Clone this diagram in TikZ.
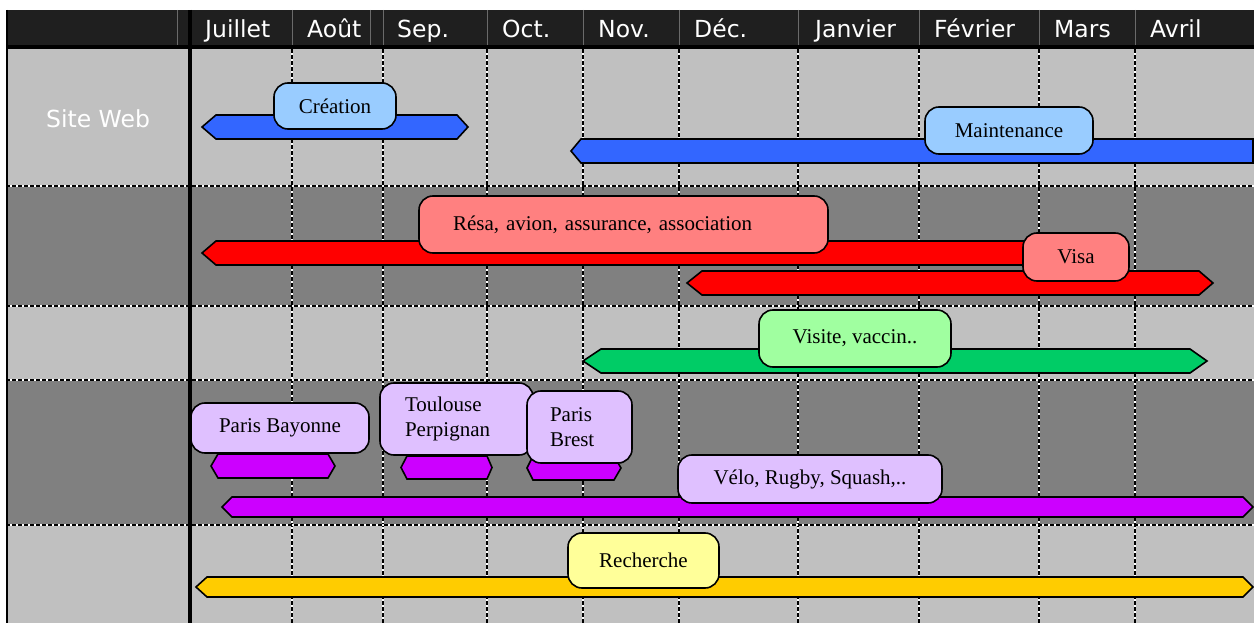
\documentclass[tikz,border=0pt]{standalone}
\usepackage{fontspec}
\setmainfont{Liberation Serif}
\newfontfamily\hdrfont{DejaVu Sans}
\definecolor{rowlight}{HTML}{C0C0C0}
\definecolor{rowdark}{HTML}{808080}
\definecolor{hdrgrey}{HTML}{1F1F1F}
\definecolor{sepgrey}{HTML}{6A6A6A}
\definecolor{barblue}{HTML}{3366FF}
\definecolor{lblblue}{HTML}{99CCFF}
\definecolor{barred}{HTML}{FF0000}
\definecolor{lblred}{HTML}{FF8080}
\definecolor{bargreen}{HTML}{00CC66}
\definecolor{lblgreen}{HTML}{A0FFA0}
\definecolor{barpurple}{HTML}{CC00FF}
\definecolor{lbllilac}{HTML}{DFC0FF}
\definecolor{baryellow}{HTML}{FFCC00}
\definecolor{lblyellow}{HTML}{FFFF99}
\tikzset{
  lbl/.style={draw=black, line width=1.6pt, rounded corners=14pt, inner sep=0pt, font=\fontsize{21}{25}\selectfont},
  ganttbar/.style={draw=black, line width=1.6pt, line join=miter},
  month/.style={anchor=base west, text=white, inner sep=0pt, font=\hdrfont\fontsize{23.5}{28}\selectfont},
  griddash/.style={line width=2pt, dash pattern=on 4pt off 2pt},
}
\begin{document}
\begin{tikzpicture}[x=1pt,y=-1pt]
\useasboundingbox (0,0) rectangle (1254,623);
% rows
\fill[hdrgrey] (6,10) rectangle (1254,45);
\fill[black] (6,45) rectangle (1254,49);
\fill[rowlight] (6,49) rectangle (1254,186);
\fill[rowdark] (6,186) rectangle (1254,306);
\fill[rowlight] (6,306) rectangle (1254,380);
\fill[rowdark] (6,380) rectangle (1254,525);
\fill[rowlight] (6,525) rectangle (1254,623);
\foreach \x in {177,292,370,383,487,583,679,798,919,1039,1135}
  \draw[sepgrey, line width=1pt] (\x,10) -- (\x,45);
\foreach \x/\m [count=\i] in {205/Juillet,307/Août,397/Sep.,502/Oct.,598/Nov.,694/Déc.,815/Janvier,934/Février,1054/Mars,1150/Avril}
  \node[month] (m\i) at (\x,38) {\m};
\node[text=white, inner sep=0pt, anchor=base, font=\hdrfont\fontsize{23.5}{28}\selectfont] (siteweb) at (98,128) {Site Web};
% grid
\foreach \x in {292,383,487,583,679,798,919,1039,1135}{
  \draw[white, line width=2pt] (\x,49) -- (\x,623);
  \draw[griddash] (\x,49) -- (\x,623);
}
\foreach \y in {186,306,380,525}{
  \draw[white, line width=2pt] (6,\y) -- (1254,\y);
  \draw[griddash] (6,\y) -- (1254,\y);
}
\draw[line width=4pt] (190,10) -- (190,623);
\draw[line width=2pt] (7,10) -- (7,623);
% bars
\draw[ganttbar, fill=barblue] (202,127) -- (216,115) -- (457,115) -- (468,127) -- (457,139) -- (216,139) -- cycle;
\draw[ganttbar, fill=barblue] (571,151) -- (581,139) -- (1253,139) -- (1253,163) -- (581,163) -- cycle;
\draw[ganttbar, fill=barred] (202,253) -- (216,241) -- (1060,241) -- (1060,265) -- (216,265) -- cycle;
\draw[ganttbar, fill=barred] (687,283) -- (702,271) -- (1199,271) -- (1213,283) -- (1199,295) -- (702,295) -- cycle;
\draw[ganttbar, fill=bargreen] (583,361) -- (601,349) -- (1190,349) -- (1207,361) -- (1190,373) -- (601,373) -- cycle;
\draw[ganttbar, fill=barpurple] (211,466) -- (218,454) -- (328,454) -- (335,466) -- (328,478) -- (218,478) -- cycle;
\draw[ganttbar, fill=barpurple] (401,467.5) -- (407,456) -- (487,456) -- (492,467.5) -- (487,479) -- (407,479) -- cycle;
\draw[ganttbar, fill=barpurple] (527,468) -- (533,456) -- (614,456) -- (621,468) -- (614,480) -- (533,480) -- cycle;
\draw[ganttbar, fill=barpurple] (222,507) -- (232,497) -- (1243,497) -- (1253,507) -- (1243,517) -- (232,517) -- cycle;
\draw[ganttbar, fill=baryellow] (196,587) -- (207,577) -- (1243,577) -- (1253,587) -- (1243,597) -- (207,597) -- cycle;
% labels
\node[lbl, fill=lblblue, minimum width=122, minimum height=46] (creation) at (335,106) {Création};
\node[lbl, fill=lblblue, minimum width=168, minimum height=47] (maint) at (1009,130.5) {Maintenance};
\node[lbl, fill=lblred, minimum height=57, inner xsep=34pt, text width=341pt, align=left] (resa) at (623.5,224.5) {Résa, avion, assurance, association};
\node[lbl, fill=lblred, minimum width=106, minimum height=48] (visa) at (1076,257) {Visa};
\node[lbl, fill=lblgreen, minimum width=192, minimum height=57] (visite) at (855,338.5) {Visite, vaccin..};
\node[lbl, fill=lbllilac, minimum width=178, minimum height=50] (bayonne) at (280,428) {Paris Bayonne};
\node[lbl, fill=lbllilac, minimum height=72, inner xsep=25pt, text width=103pt, align=left] (toulouse) at (456.5,419) {Toulouse\\Perpignan};
\node[lbl, fill=lbllilac, minimum height=72, inner xsep=23pt, text width=59pt, align=left] (brest) at (579.5,427) {Paris\\Brest};
\node[lbl, fill=lbllilac, minimum width=264, minimum height=48] (velo) at (810,479) {Vélo, Rugby, Squash,..};
\node[lbl, fill=lblyellow, minimum width=151, minimum height=55] (recherche) at (643.5,560.5) {Recherche};
\end{tikzpicture}
\end{document}
